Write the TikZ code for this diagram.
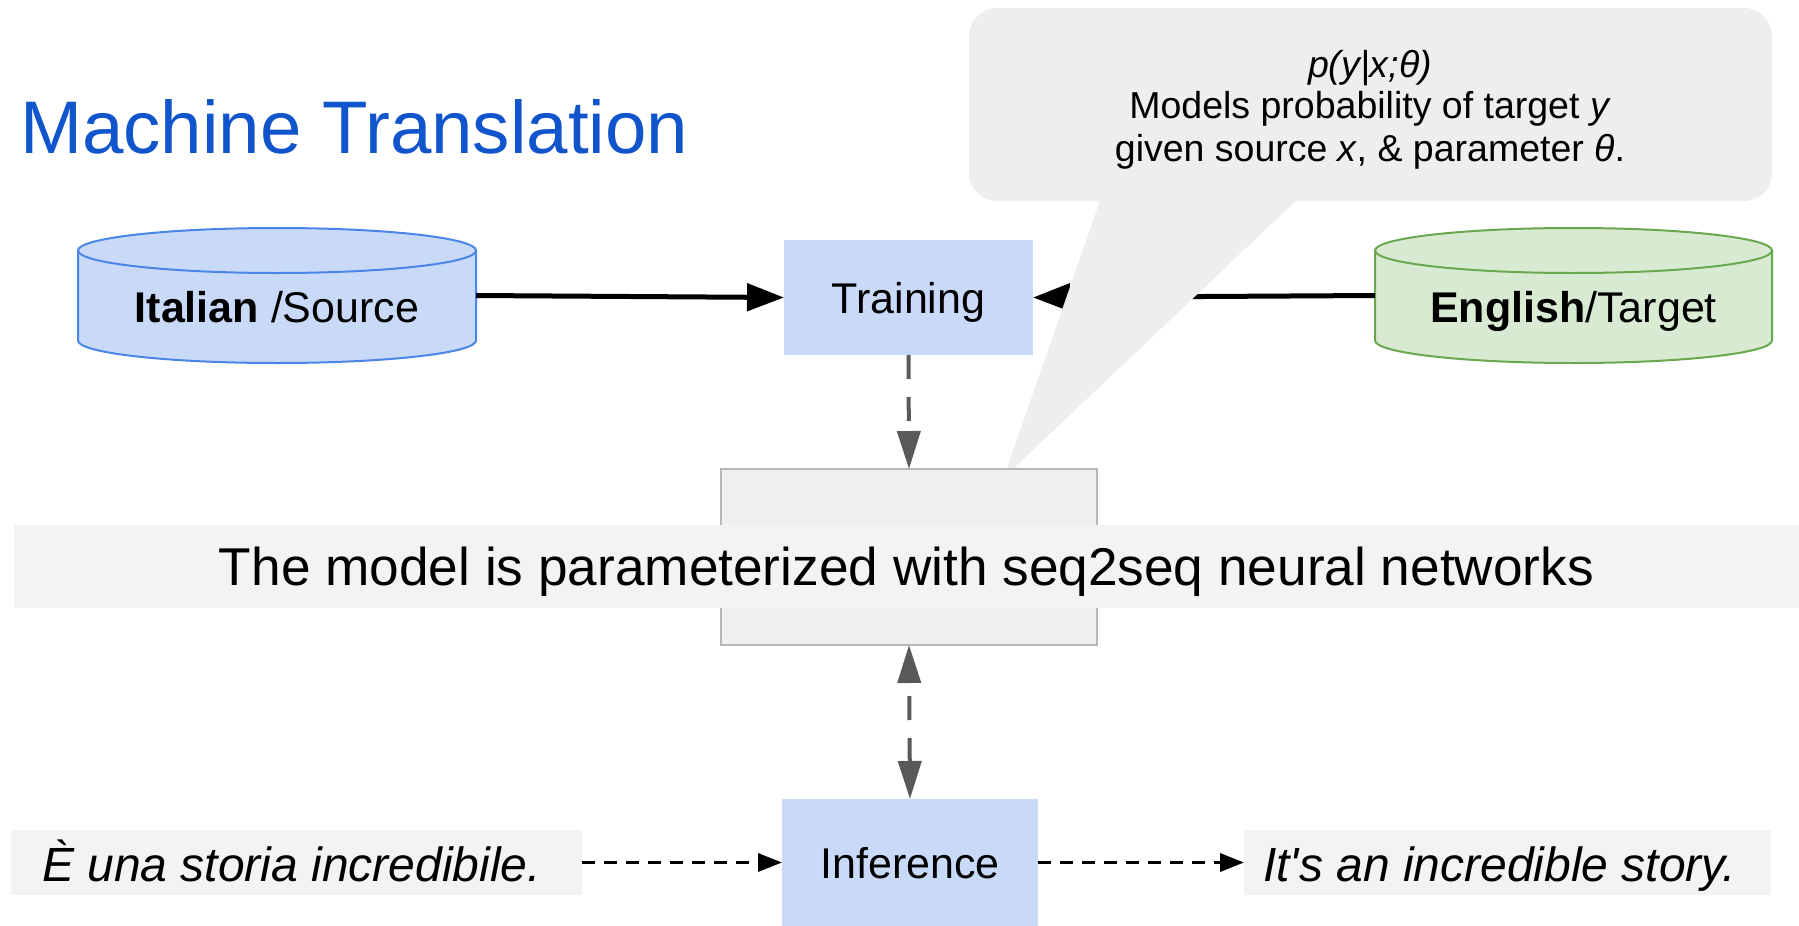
\documentclass[tikz,border=0pt]{standalone}
\usepackage{fontspec}
\setmainfont{Liberation Sans}
\usetikzlibrary{arrows.meta,backgrounds}

\definecolor{mtblue}{HTML}{1155CC}
\definecolor{boxblue}{HTML}{C9DAF8}
\definecolor{cylblueline}{HTML}{4A86E8}
\definecolor{cylgreen}{HTML}{D9EAD3}
\definecolor{cylgreenline}{HTML}{6AA84F}
\definecolor{arrowgray}{HTML}{595959}
\definecolor{bubblegray}{HTML}{EEEEEE}
\definecolor{modelgray}{HTML}{EFEFEF}
\definecolor{modelline}{HTML}{B7B7B7}
\definecolor{bandgray}{HTML}{F3F3F3}

\tikzset{
  fs/.style={font=\fontsize{#1}{#1}\selectfont},
  holder/.style={rectangle, inner sep=0pt, outer sep=0pt},
  bluebox/.style={holder, fill=boxblue, fs=43, text height=31pt, text depth=0pt},
  solidarrow/.style={line width=5pt, -{Triangle[length=37pt,width=27pt]}},
  grayarrow/.style={draw=arrowgray, line width=4pt, dash pattern=on 24pt off 18pt,
    -{Triangle[length=38pt,width=23pt]}, arrowgray},
  smallarrow/.style={line width=3.5pt, dash pattern=on 13pt off 9pt,
    -{Triangle[length=24pt,width=18pt]}},
  itext/.style={anchor=base west, inner sep=0pt, font=\fontsize{48}{48}\selectfont\itshape},
}

\begin{document}
\begin{tikzpicture}[x=1pt, y=1pt]
\useasboundingbox (0,0) rectangle (1799,-926);

% heading
\node[anchor=base west, inner sep=0pt, text=mtblue, fs=74.5] (title) at (20,-153) {Machine Translation};

% source corpus cylinder
\node[holder, minimum width=398pt, minimum height=135pt] (italian) at (277,-295.5) {};
\begin{scope}[fill=boxblue, draw=cylblueline, line width=2pt]
  \filldraw (78,-250.5) -- (78,-340.5) arc[start angle=180, end angle=360, x radius=199, y radius=22.5]
    -- (476,-250.5) arc[start angle=0, end angle=180, x radius=199, y radius=22.5] -- cycle;
  \draw (78,-250.5) arc[start angle=180, end angle=360, x radius=199, y radius=22.5];
\end{scope}
\node[anchor=base, inner sep=0pt, fs=43] (italianT) at (277,-322) {\textbf{Italian }/Source};

% target corpus cylinder
\node[holder, minimum width=397pt, minimum height=135pt] (english) at (1573.5,-295.5) {};
\begin{scope}[fill=cylgreen, draw=cylgreenline, line width=2pt]
  \filldraw (1375,-250.5) -- (1375,-340.5) arc[start angle=180, end angle=360, x radius=198.5, y radius=22.5]
    -- (1772,-250.5) arc[start angle=0, end angle=180, x radius=198.5, y radius=22.5] -- cycle;
  \draw (1375,-250.5) arc[start angle=180, end angle=360, x radius=198.5, y radius=22.5];
\end{scope}
\node[anchor=base, inner sep=0pt, fs=43] (englishT) at (1573.5,-322) {\textbf{English}/Target};

% training step
\node[bluebox, minimum width=249pt, minimum height=115pt] (train) at (908.5,-297.5) {Training};

\draw[solidarrow] (italian.east) -- (train.west);
\draw[solidarrow] (english.west) -- (train.east);

% model box
\node[holder, fill=modelgray, draw=modelline, line width=2pt, minimum width=376pt, minimum height=176pt] (model) at (909,-557) {};

\draw[grayarrow] (train.south) -- (model.north);

% speech bubble with the model definition
\node[holder, fill=bubblegray, rounded corners=28pt, minimum width=803pt, minimum height=193pt] (bubble) at (1370.5,-104.5) {};
\fill[bubblegray] (1102,-195) -- (1007,-468) -- (1014,-468) -- (1302,-195) -- cycle;
\node[anchor=base, inner sep=0pt, fs=37.5] (bub1) at (1370,-77) {\itshape p(y|x;θ)};
\node[anchor=base, inner sep=0pt, fs=37.5] (bub2) at (1370,-118) {Models probability of target \textit{y}};
\node[anchor=base, inner sep=0pt, fs=37.5] (bub3) at (1370,-161) {given source \textit{x}, \& parameter \textit{θ}.};

% caption band across the model box
\node[holder, fill=bandgray, minimum width=1785pt, minimum height=83pt, fs=53.2, text height=38pt, text depth=0pt]
  (band) at (906.5,-566.5) {The model is parameterized with seq2seq neural networks};

% inference step
\node[bluebox, minimum width=256pt, minimum height=127pt] (infer) at (910,-862.5) {Inference};

\draw[grayarrow, {Triangle[length=38pt,width=23pt]}-{Triangle[length=38pt,width=23pt]}, dash phase=28pt]
  (model.south) -- (infer.north);

% example sentences
\node[holder, fill=bandgray, minimum width=571pt, minimum height=65pt] (src) at (296.5,-862.5) {};
\node[itext] (srcT) at (42,-881) {È una storia incredibile.};
\node[holder, fill=bandgray, minimum width=527pt, minimum height=65pt] (tgt) at (1507.5,-862.5) {};
\node[itext] (tgtT) at (1263,-881) {It\textquotesingle s an incredible story.};

\draw[smallarrow] (src.east) -- (infer.west);
\draw[smallarrow] (infer.east) -- (tgt.west);
\end{tikzpicture}
\end{document}
